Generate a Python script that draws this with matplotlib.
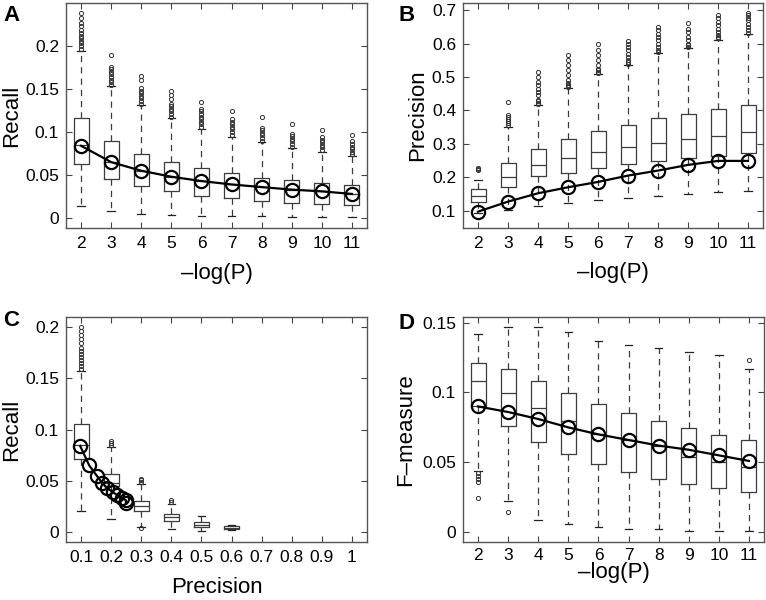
import matplotlib
matplotlib.use("Agg")
import matplotlib.pyplot as plt

plt.rcParams['font.family'] = ['Liberation Sans', 'DejaVu Sans']

# ---- panel A: recall vs -log(P) ----
logp = [2, 3, 4, 5, 6, 7, 8, 9, 10, 11]
a_lo = [0.0135, 0.0077, 0.005, 0.004, 0.0023, 0.002, 0.0018, 0.0015, 0.0013, 0.0012]
a_q1 = [0.0625, 0.045, 0.0375, 0.031, 0.026, 0.0229, 0.020, 0.018, 0.0163, 0.0147]
a_med = [0.085, 0.065, 0.055, 0.048, 0.043, 0.039, 0.036, 0.033, 0.031, 0.028]
a_q3 = [0.116, 0.089, 0.0745, 0.065, 0.0578, 0.052, 0.047, 0.044, 0.0407, 0.038]
a_hi = [0.194, 0.153, 0.131, 0.116, 0.104, 0.0946, 0.088, 0.081, 0.077, 0.072]
a_fliers = [
    [0.197, 0.200, 0.203, 0.206, 0.209, 0.212, 0.215, 0.219, 0.223, 0.227, 0.232, 0.238],
    [0.155, 0.158, 0.161, 0.164, 0.167, 0.170, 0.173, 0.176, 0.190],
    [0.133, 0.136, 0.139, 0.142, 0.145, 0.148, 0.151, 0.161, 0.165],
    [0.118, 0.121, 0.124, 0.127, 0.130, 0.133, 0.138, 0.143, 0.148],
    [0.106, 0.109, 0.112, 0.115, 0.118, 0.121, 0.124, 0.127, 0.135],
    [0.097, 0.100, 0.103, 0.106, 0.109, 0.112, 0.115, 0.125],
    [0.090, 0.093, 0.096, 0.099, 0.102, 0.105, 0.117],
    [0.083, 0.086, 0.089, 0.092, 0.095, 0.098, 0.109],
    [0.079, 0.082, 0.085, 0.088, 0.091, 0.094, 0.102],
    [0.074, 0.077, 0.080, 0.083, 0.086, 0.089, 0.0965],
]
recall_line = [0.084, 0.065, 0.055, 0.048, 0.043, 0.039, 0.036, 0.033, 0.031, 0.028]

# ---- panel B: precision vs -log(P) ----
b_lo = [0.092, 0.103, 0.115, 0.123, 0.132, 0.138, 0.145, 0.151, 0.155, 0.159]
b_q1 = [0.127, 0.17, 0.2025, 0.213, 0.227, 0.239, 0.248, 0.257, 0.264, 0.272]
b_med = [0.145, 0.2, 0.237, 0.258, 0.276, 0.29, 0.302, 0.314, 0.324, 0.335]
b_q3 = [0.165, 0.244, 0.284, 0.316, 0.339, 0.358, 0.377, 0.39, 0.404, 0.416]
b_hi = [0.193, 0.352, 0.416, 0.466, 0.509, 0.536, 0.571, 0.586, 0.612, 0.628]
b_fliers = [
    [0.221, 0.224, 0.227],
    [0.356, 0.362, 0.368, 0.374, 0.380, 0.386, 0.426],
    [0.419, 0.423, 0.427, 0.431, 0.445, 0.455, 0.465, 0.475, 0.485, 0.500, 0.516],
    [0.469, 0.473, 0.477, 0.481, 0.490, 0.505, 0.520, 0.535, 0.550, 0.565],
    [0.512, 0.516, 0.520, 0.524, 0.535, 0.550, 0.565, 0.580, 0.600],
    [0.540, 0.545, 0.550, 0.560, 0.570, 0.580, 0.590, 0.600, 0.608],
    [0.575, 0.580, 0.590, 0.600, 0.610, 0.620, 0.630, 0.640, 0.650],
    [0.590, 0.595, 0.600, 0.610, 0.620, 0.635, 0.645, 0.662],
    [0.616, 0.620, 0.625, 0.635, 0.645, 0.655, 0.665, 0.678, 0.685],
    [0.632, 0.640, 0.650, 0.660, 0.670, 0.677, 0.685, 0.692],
]
precision_line = [0.097, 0.127, 0.152, 0.17, 0.186, 0.205, 0.22, 0.237, 0.249, 0.249]

# ---- panel C: recall binned by precision ----
prec_bins = [0.1, 0.2, 0.3, 0.4, 0.5, 0.6]
c_lo = [0.0208, 0.013, 0.0045, 0.003, 0.001, 0.0023]
c_q1 = [0.071, 0.0446, 0.0208, 0.011, 0.0052, 0.0033]
c_med = [0.085, 0.048, 0.0257, 0.0146, 0.007, 0.0042]
c_q3 = [0.105, 0.057, 0.0306, 0.0176, 0.0098, 0.0055]
c_hi = [0.157, 0.083, 0.047, 0.027, 0.016, 0.007]
c_fliers = [
    [0.159, 0.162, 0.165, 0.168, 0.171, 0.174, 0.177, 0.180, 0.184, 0.188, 0.192, 0.196, 0.200],
    [0.085, 0.087, 0.089],
    [0.049, 0.051, 0.052, 0.0035],
    [0.029, 0.0315],
    [],
    [],
]

# ---- panel D: F-measure vs -log(P) ----
d_lo = [0.044, 0.0226, 0.0088, 0.006, 0.004, 0.0026, 0.002, 0.0012, 0.0012, 0.001]
d_q1 = [0.090, 0.076, 0.0649, 0.056, 0.0487, 0.043, 0.038, 0.0346, 0.0315, 0.0286]
d_med = [0.1085, 0.0995, 0.0888, 0.0797, 0.070, 0.066, 0.062, 0.054, 0.0506, 0.047]
d_q3 = [0.121, 0.117, 0.1085, 0.0999, 0.092, 0.085, 0.0797, 0.0749, 0.0696, 0.066]
d_hi = [0.142, 0.147, 0.147, 0.1436, 0.137, 0.134, 0.1317, 0.129, 0.1266, 0.117]
d_fliers = [
    [0.0425, 0.040, 0.038, 0.036, 0.0245],
    [0.0143],
    [], [], [], [], [], [], [],
    [0.123],
]
fmeasure_line = [0.09, 0.086, 0.081, 0.075, 0.070, 0.066, 0.062, 0.059, 0.055, 0.051]


def make_stats(lo, q1, med, q3, hi, fliers):
    return [dict(whislo=a, q1=b, med=c, q3=d, whishi=e, fliers=f)
            for a, b, c, d, e, f in zip(lo, q1, med, q3, hi, fliers)]


def draw_boxes(ax, stats, positions, width):
    gray = '#3c3c3c'
    ax.bxp(stats, positions=positions, widths=width, manage_ticks=False,
           boxprops=dict(color=gray, linewidth=0.9),
           medianprops=dict(color=gray, linewidth=0.9),
           whiskerprops=dict(color=gray, linewidth=0.9, linestyle=(0, (5, 4))),
           capprops=dict(color='#222222', linewidth=0.9),
           flierprops=dict(marker='o', markersize=3.0, markerfacecolor='none',
                           markeredgecolor='#333333', markeredgewidth=0.7,
                           linestyle='none'))


def style_axes(ax, xpad=6):
    for s in ax.spines.values():
        s.set_color('#555555')
        s.set_linewidth(1.0)
    ax.tick_params(direction='in', length=4, width=0.8, color='#444444',
                   top=True, right=True, labelsize=12.5)
    ax.tick_params(axis='x', pad=xpad)
    ax.tick_params(axis='y', pad=5)


def draw_line(ax, x, y):
    ax.plot(x, y, color='black', linewidth=1.6, marker='o', markersize=9.5,
            markerfacecolor='none', markeredgecolor='black', markeredgewidth=1.6,
            zorder=5)


fig = plt.figure(figsize=(7.66, 6.0), dpi=100)
lab = 16

# A
axA = fig.add_axes([66 / 766, 1 - 228 / 600, 301 / 766, 225 / 600])
draw_boxes(axA, make_stats(a_lo, a_q1, a_med, a_q3, a_hi, a_fliers), logp, 0.5)
draw_line(axA, logp, recall_line)
axA.set_xlim(1.5, 11.5)
axA.set_ylim(-0.0116, 0.25)
axA.set_xticks(logp)
axA.set_xticklabels([str(v) for v in logp])
axA.set_yticks([0, 0.05, 0.1, 0.15, 0.2])
axA.set_yticklabels(['0', '0.05', '0.1', '0.15', '0.2'])
axA.set_ylabel('Recall', fontsize=lab)
axA.set_xlabel('\u2013log(P)', fontsize=lab)
style_axes(axA)
axA.yaxis.set_label_coords(-0.145, 0.5)
axA.xaxis.set_label_coords(0.5, -0.155)

# B
axB = fig.add_axes([463 / 766, 1 - 228 / 600, 300 / 766, 225 / 600])
draw_boxes(axB, make_stats(b_lo, b_q1, b_med, b_q3, b_hi, b_fliers), logp, 0.5)
draw_line(axB, logp, precision_line)
axB.set_xlim(1.5, 11.5)
axB.set_ylim(0.048, 0.722)
axB.set_xticks(logp)
axB.set_xticklabels([str(v) for v in logp])
axB.set_yticks([0.1, 0.2, 0.3, 0.4, 0.5, 0.6, 0.7])
axB.set_yticklabels(['0.1', '0.2', '0.3', '0.4', '0.5', '0.6', '0.7'])
axB.set_ylabel('Precision', fontsize=lab)
axB.set_xlabel('\u2013log(P)', fontsize=lab)
style_axes(axB)
axB.yaxis.set_label_coords(-0.115, 0.5)
axB.xaxis.set_label_coords(0.5, -0.15)

# C
axC = fig.add_axes([66 / 766, 1 - 542 / 600, 301 / 766, 225 / 600])
draw_boxes(axC, make_stats(c_lo, c_q1, c_med, c_q3, c_hi, c_fliers), prec_bins, 0.05)
draw_line(axC, precision_line, recall_line)
axC.set_xlim(0.05, 1.05)
axC.set_ylim(-0.0098, 0.2098)
xt = [0.1, 0.2, 0.3, 0.4, 0.5, 0.6, 0.7, 0.8, 0.9, 1.0]
axC.set_xticks(xt)
axC.set_xticklabels(['0.1', '0.2', '0.3', '0.4', '0.5', '0.6', '0.7', '0.8', '0.9', '1'])
axC.set_yticks([0, 0.05, 0.1, 0.15, 0.2])
axC.set_yticklabels(['0', '0.05', '0.1', '0.15', '0.2'])
axC.set_ylabel('Recall', fontsize=lab)
axC.set_xlabel('Precision', fontsize=lab)
style_axes(axC)
axC.yaxis.set_label_coords(-0.145, 0.5)
axC.xaxis.set_label_coords(0.5, -0.155)

# D
axD = fig.add_axes([463 / 766, 1 - 542 / 600, 301 / 766, 225 / 600])
draw_boxes(axD, make_stats(d_lo, d_q1, d_med, d_q3, d_hi, d_fliers), logp, 0.5)
draw_line(axD, logp, fmeasure_line)
axD.set_xlim(1.5, 11.5)
axD.set_ylim(-0.007, 0.154)
axD.set_xticks(logp)
axD.set_xticklabels([str(v) for v in logp])
axD.set_yticks([0, 0.05, 0.1, 0.15])
axD.set_yticklabels(['0', '0.05', '0.1', '0.15'])
axD.set_ylabel('F\u2013measure', fontsize=lab)
axD.set_xlabel('\u2013log(P)', fontsize=lab)
style_axes(axD, xpad=4)
axD.yaxis.set_label_coords(-0.155, 0.5)
axD.xaxis.set_label_coords(0.5, -0.09)

# panel letters
for lx, ly, letter in [(3, 5, 'A'), (398, 5, 'B'), (3, 310, 'C'), (398, 313, 'D')]:
    fig.text(lx / 766, 1 - ly / 600, letter, fontsize=16, fontweight='bold',
             ha='left', va='top')

fig.savefig('out.png', dpi=100)
